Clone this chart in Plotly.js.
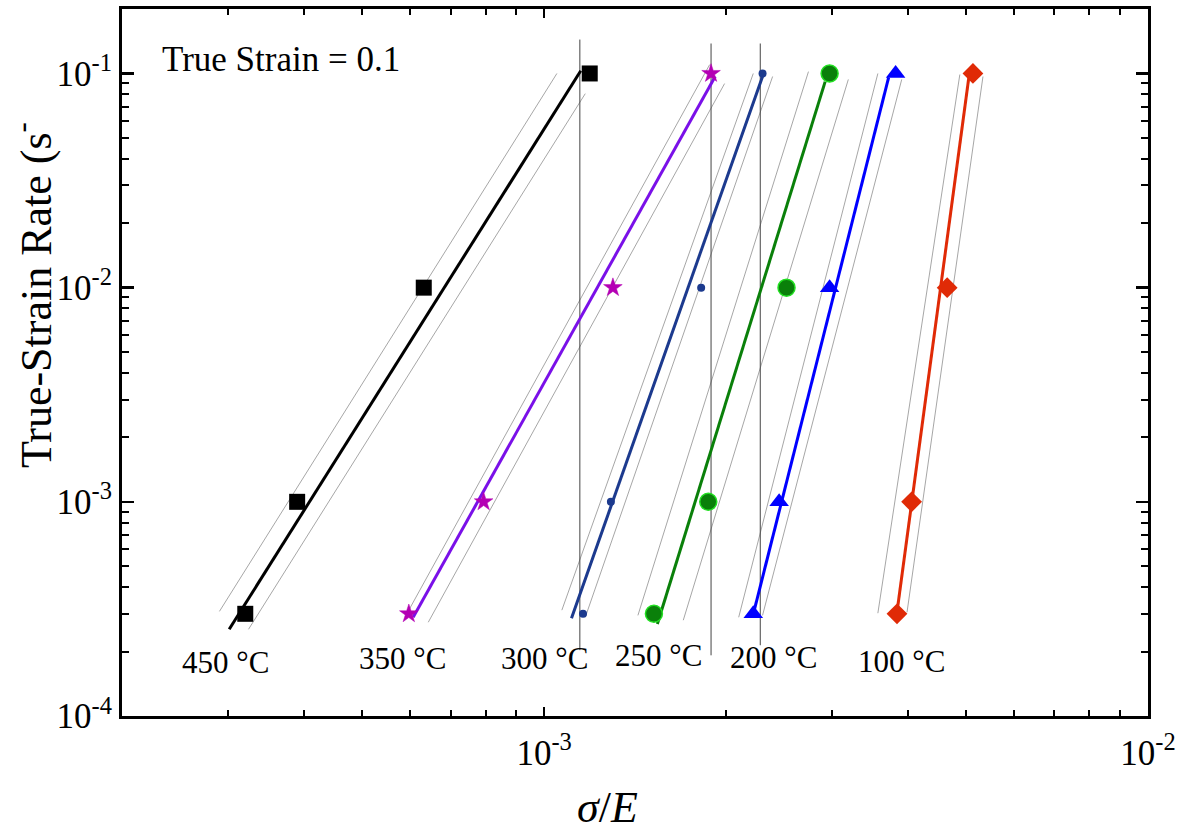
<!DOCTYPE html>
<html>
<head>
<meta charset="utf-8">
<script src="https://cdn.plot.ly/plotly-3.0.1.min.js"></script>
<style>html,body{margin:0;padding:0;background:#fff;}#chart{width:1183px;height:831px;}</style>
</head>
<body>
<div id="chart"></div>
<script>
// ---- data ----
const temps = ['450 °C', '350 °C', '300 °C', '250 °C', '200 °C', '100 °C'];
const strainRate = [1e-1, 1e-2, 1e-3, 3e-4];

const sigmaE_450 = [1.19e-3, 6.32e-4, 3.90e-4, 3.20e-4];
const sigmaE_350 = [1.89e-3, 1.30e-3, 7.94e-4, 5.97e-4];
const sigmaE_300 = [2.30e-3, 1.82e-3, 1.29e-3, 1.16e-3];
const sigmaE_250 = [2.97e-3, 2.52e-3, 1.87e-3, 1.52e-3];
const sigmaE_200 = [3.82e-3, 2.97e-3, 2.45e-3, 2.22e-3];
const sigmaE_100 = [5.13e-3, 4.65e-3, 4.06e-3, 3.84e-3];

// fitted lines (end points)
const fitX_450 = [3.01e-4, 1.15e-3], fitY_450 = [2.54e-4, 0.103];
const fitX_350 = [6.07e-4, 1.92e-3], fitY_350 = [2.89e-4, 0.0968];
const fitX_300 = [1.11e-3, 2.30e-3], fitY_300 = [2.86e-4, 0.0968];
const fitX_250 = [1.54e-3, 2.92e-3], fitY_250 = [2.69e-4, 0.0916];
const fitX_200 = [2.22e-3, 3.72e-3], fitY_200 = [2.99e-4, 0.0960];
const fitX_100 = [3.84e-3, 5.05e-3], fitY_100 = [3.05e-4, 0.0957];

// thin bounding lines (lower / upper side)
const bandAX_450 = [2.90e-4, 1.05e-3], bandAY_450 = [3.08e-4, 0.100];
const bandBX_450 = [3.24e-4, 1.17e-3], bandBY_450 = [2.54e-4, 0.0805];
const bandAX_350 = [5.97e-4, 1.88e-3], bandAY_350 = [3.12e-4, 0.110];
const bandBX_350 = [6.43e-4, 1.99e-3], bandBY_350 = [2.74e-4, 0.0897];
const bandAX_300 = [1.07e-3, 2.22e-3], bandAY_300 = [3.12e-4, 0.100];
const bandBX_300 = [1.17e-3, 2.39e-3], bandBY_300 = [2.89e-4, 0.0968];
const bandAX_250 = [1.43e-3, 2.74e-3], bandAY_250 = [2.95e-4, 0.102];
const bandBX_250 = [1.70e-3, 3.19e-3], bandBY_250 = [2.80e-4, 0.0938];
const bandAX_200 = [2.10e-3, 3.57e-3], bandAY_200 = [2.89e-4, 0.100];
const bandBX_200 = [2.30e-3, 3.91e-3], bandBY_200 = [2.95e-4, 0.0938];
const bandAX_100 = [3.57e-3, 4.88e-3], bandAY_100 = [3.02e-4, 0.0989];
const bandBX_100 = [3.99e-3, 5.33e-3], bandBY_100 = [3.05e-4, 0.0968];

// vertical reference lines
const refX = [1.146e-3, 1.89e-3, 2.28e-3];
const refYTop = [0.144, 0.138, 0.138];
const refYBot = [2.03e-4, 1.92e-4, 2.14e-4];

const yTickVals = [1e-4, 1e-3, 1e-2, 1e-1];
const yTickText = ['10<sup>-4</sup>', '10<sup>-3</sup>', '10<sup>-2</sup>', '10<sup>-1</sup>'];
const xTickVals = [1e-3, 1e-2];
const xTickText = ['10<sup>-3</sup>', '10<sup>-2</sup>'];

// ---- build traces ----
const FONT = 'Liberation Serif';
const traces = [];
const bandColor = '#8f8f8f';

const bands = [
  [bandAX_450, bandAY_450, bandBX_450, bandBY_450],
  [bandAX_350, bandAY_350, bandBX_350, bandBY_350],
  [bandAX_300, bandAY_300, bandBX_300, bandBY_300],
  [bandAX_250, bandAY_250, bandBX_250, bandBY_250],
  [bandAX_200, bandAY_200, bandBX_200, bandBY_200],
  [bandAX_100, bandAY_100, bandBX_100, bandBY_100]
];
bands.forEach(b => {
  traces.push({x: b[0], y: b[1], mode: 'lines', line: {color: bandColor, width: 0.8}, showlegend: false, hoverinfo: 'skip'});
  traces.push({x: b[2], y: b[3], mode: 'lines', line: {color: bandColor, width: 0.8}, showlegend: false, hoverinfo: 'skip'});
});
refX.forEach((xv, i) => {
  traces.push({x: [xv, xv], y: [refYBot[i], refYTop[i]], mode: 'lines', line: {color: '#444', width: 1}, showlegend: false, hoverinfo: 'skip'});
});

const series = [
  {name: temps[0], x: sigmaE_450, fx: fitX_450, fy: fitY_450, lc: '#000000', mc: '#000000', sym: 'square', size: 16, ml: '#000000', mw: 0},
  {name: temps[1], x: sigmaE_350, fx: fitX_350, fy: fitY_350, lc: '#7a10e8', mc: '#b400b4', sym: 'star', size: 14, ml: '#b400b4', mw: 0.5},
  {name: temps[2], x: sigmaE_300, fx: fitX_300, fy: fitY_300, lc: '#1c3a8e', mc: '#1c3a8e', sym: 'circle', size: 8, ml: '#1c3a8e', mw: 0},
  {name: temps[3], x: sigmaE_250, fx: fitX_250, fy: fitY_250, lc: '#0a800a', mc: '#0a800a', sym: 'circle', size: 17, ml: '#22e022', mw: 1.5},
  {name: temps[4], x: sigmaE_200, fx: fitX_200, fy: fitY_200, lc: '#0000ff', mc: '#0000ff', sym: 'triangle-up', size: 17, ml: '#0000ff', mw: 0},
  {name: temps[5], x: sigmaE_100, fx: fitX_100, fy: fitY_100, lc: '#e02a06', mc: '#e02a06', sym: 'diamond', size: 16, ml: '#e02a06', mw: 0}
];
series.forEach(s => {
  traces.push({x: s.fx, y: s.fy, mode: 'lines', line: {color: s.lc, width: 3}, showlegend: false, hoverinfo: 'skip'});
});
series.forEach(s => {
  traces.push({x: s.x, y: strainRate, mode: 'markers', name: s.name,
    marker: {symbol: s.sym, size: s.size, color: s.mc, line: {color: s.ml, width: s.mw}}, showlegend: false});
});

// label positions (log10 data coordinates)
const labelPos = [[-3.528, -3.749], [-3.235, -3.730], [-3.000, -3.730], [-2.810, -3.716], [-2.620, -3.725], [-2.409, -3.744]];
const annotations = temps.map((t, i) => ({
  text: t, x: labelPos[i][0], y: labelPos[i][1], xref: 'x', yref: 'y', showarrow: false,
  xanchor: 'center', yanchor: 'middle', font: {family: FONT, size: 31, color: '#000'}
}));
annotations.push({text: 'True Strain = 0.1', xref: 'paper', yref: 'paper', x: 0.037, y: 0.929,
  xanchor: 'left', yanchor: 'middle', showarrow: false, font: {family: FONT, size: 35, color: '#000'}});
annotations.push({text: 'True-Strain Rate (s<sup>-</sup>', xref: 'paper', yref: 'paper', x: -0.087, y: 0.595,
  xanchor: 'center', yanchor: 'middle', textangle: -90, showarrow: false, font: {family: FONT, size: 44, color: '#000'}});
annotations.push({text: '<i>σ</i>/<i>E</i>', xref: 'paper', yref: 'paper', x: 0.473, y: -0.13,
  xanchor: 'center', yanchor: 'middle', showarrow: false, font: {family: FONT, size: 44, color: '#000'}});

const minorX = [], minorY = [];
[-4, -3, -2].forEach(p => { for (let k = 2; k <= 9; k++) minorX.push(k * Math.pow(10, p)); });
[-4, -3, -2, -1].forEach(p => { for (let k = 2; k <= 9; k++) minorY.push(k * Math.pow(10, p)); });

const TICKFONT = {family: FONT, size: 35, color: '#000'};
const layout = {
  width: 1183, height: 831,
  margin: {l: 122, r: 35, t: 9, b: 115},
  paper_bgcolor: '#fff', plot_bgcolor: '#fff',
  font: {family: FONT, size: 35, color: '#000'},
  showlegend: false,
  xaxis: {
    type: 'log', range: [Math.log10(2e-4), -2],
    tickmode: 'array', tickvals: xTickVals, ticktext: xTickText,
    ticks: 'inside', ticklen: 9, tickwidth: 2.5, tickcolor: '#000',
    minor: {tickmode: 'array', tickvals: minorX, ticks: 'inside', ticklen: 6, tickwidth: 2, tickcolor: '#000', showgrid: false},
    showline: true, linewidth: 3, linecolor: '#000', mirror: 'ticks',
    showgrid: false, zeroline: false, ticklabelstandoff: 4,
    tickfont: TICKFONT
  },
  yaxis: {
    type: 'log', range: [-4, Math.log10(0.2)],
    tickmode: 'array', tickvals: yTickVals, ticktext: yTickText,
    ticks: 'inside', ticklen: 12, tickwidth: 2.5, tickcolor: '#000',
    minor: {tickmode: 'array', tickvals: minorY, ticks: 'inside', ticklen: 7, tickwidth: 2, tickcolor: '#000', showgrid: false},
    showline: true, linewidth: 3, linecolor: '#000', mirror: 'ticks',
    showgrid: false, zeroline: false,
    tickfont: TICKFONT
  },
  annotations: annotations
};

Plotly.newPlot('chart', traces, layout, {displayModeBar: false, staticPlot: true});
</script>
</body>
</html>
